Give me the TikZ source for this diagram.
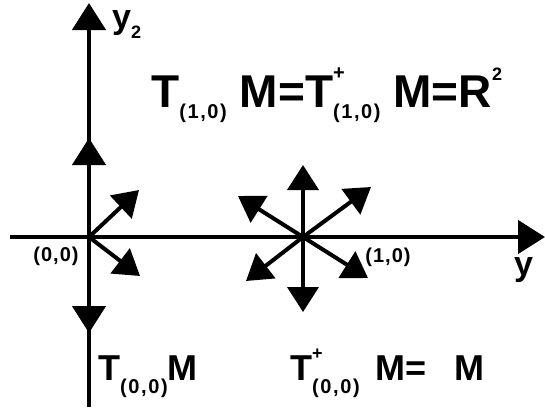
\documentclass[tikz,border=0pt]{standalone}
\usepackage{fontspec}
\setmainfont{Liberation Sans}
\newfontfamily\idxfont[LetterSpace=8]{Liberation Sans}
\newfontfamily\ptfont[LetterSpace=5]{Liberation Sans}
\usetikzlibrary{arrows.meta, positioning}

\newcommand{\lowidx}[2][11pt]{\raisebox{-#1}{\fontsize{20}{20}\idxfont\bfseries#2}}
\newcommand{\plusup}[2]{\rlap{\raisebox{#2}{\fontsize{#1}{#1}\selectfont\bfseries +}}}

\begin{document}
\begin{tikzpicture}[x=1pt, y=-1pt,
  every node/.style={inner sep=0pt},
  axis/.style={line width=4.5pt, -{Triangle[length=27pt, width=33pt]}},
  vec/.style={line width=4pt, -{Triangle[length=25pt, width=31pt]}},
  pt/.style={font=\fontsize{20}{20}\ptfont\bfseries},
  big/.style={anchor=base west, font=\fontsize{#1}{#1}\selectfont\bfseries},
]
  \useasboundingbox (0,0) rectangle (545,407);

  \coordinate (o) at (89,237);
  \coordinate (p) at (303,237);
  \coordinate (xl) at (10,237);
  \coordinate (xr) at (545,237);
  \coordinate (yb) at (89,407);
  \coordinate (yt) at (89,3);

  \draw[axis] (xl) -- (xr);
  \draw[axis] (yb) -- (yt);

  % vectors at the origin
  \coordinate (o-n) at (89,138);
  \coordinate (o-s) at (89,333);
  \draw[axis] (o) -- (o-n);
  \draw[axis] (o) -- (o-s);
  \foreach \d/\x/\y in {ne/139/190, se/140/276} {
    \coordinate (o-\d) at (\x,\y);
    \draw[vec] (o) -- (o-\d);
  }

  % vectors at (1,0)
  \foreach \d/\x/\y in {n/303/165, s/303/312, ne/371/187, nw/238/196, sw/246/281, se/368/278} {
    \coordinate (p-\d) at (\x,\y);
    \draw[vec] (p) -- (p-\d);
  }

  \node[pt] (o-lbl) at (56,256) {(0,0)};
  \node[pt] (p-lbl) at (388,257) {(1,0)};

  \node[big=34] (y2) at (112,28) {y\raisebox{-10pt}{\fontsize{18}{18}\selectfont\bfseries 2}};
  \node[big=34] (y1) at (514,275) {y};

  \node[big=46] (t10) at (151,107)
       {T\lowidx{(1,0)}\hspace{13pt}M=T\plusup{20}{28pt}\lowidx{(1,0)}\hspace{13pt}M=R\raisebox{27pt}{\fontsize{18}{18}\selectfont\bfseries 2}};
  \node[big=36] (t00) at (98,380) {T\lowidx[13pt]{(0,0)}M};
  \node[big=36] (t00p) at (290,380)
       {T\plusup{18}{21pt}\lowidx[13pt]{(0,0)}\hspace{16pt}M=\hspace{28pt}M};
\end{tikzpicture}
\end{document}
